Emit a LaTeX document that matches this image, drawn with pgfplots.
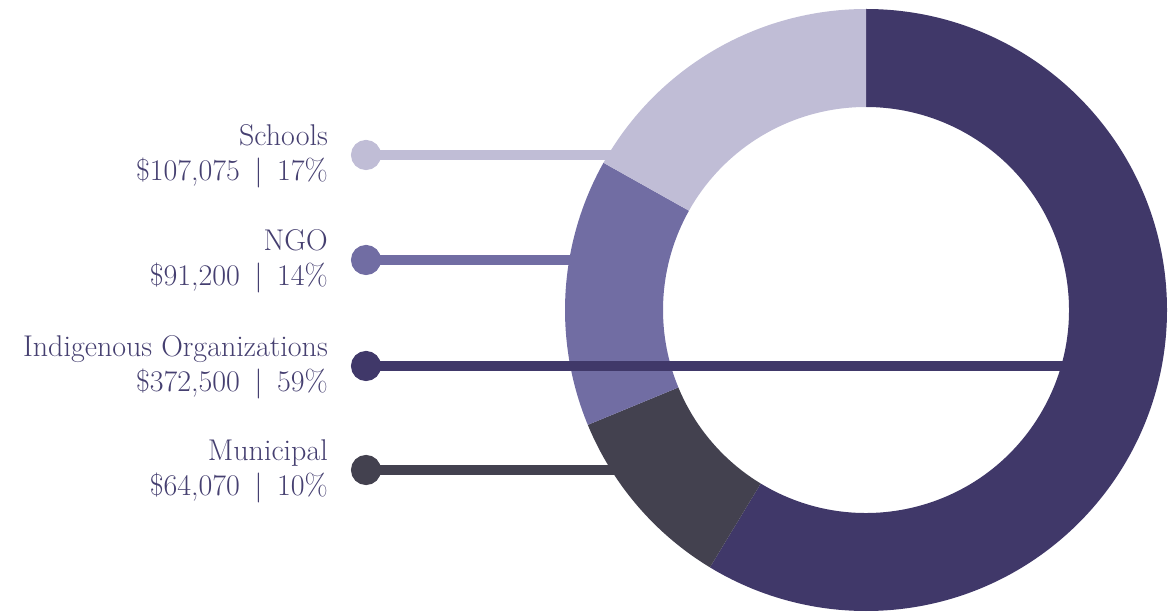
\documentclass[border=0pt]{standalone}
\usepackage{fontspec}
\usepackage{pgfplots}
\usepackage{pgfplotstable}
\pgfplotsset{compat=1.18}
\definecolor{cInd}{HTML}{403869}
\definecolor{cMun}{HTML}{43414F}
\definecolor{cNGO}{HTML}{716DA3}
\definecolor{cSch}{HTML}{C0BDD6}
\definecolor{txt}{HTML}{453F70}

\pgfplotstableread{
label value
Indigenous 372500
Municipal 64070
NGO 91200
Schools 107075
}\donut
\pgfplotstablegetelem{0}{value}\of\donut \let\vA\pgfplotsretval
\pgfplotstablegetelem{1}{value}\of\donut \let\vB\pgfplotsretval
\pgfplotstablegetelem{2}{value}\of\donut \let\vC\pgfplotsretval
\pgfplotstablegetelem{3}{value}\of\donut \let\vD\pgfplotsretval
\edef\T{\fpeval{\vA+\vB+\vC+\vD}}
\edef\aA{90}
\edef\aB{\fpeval{round(90-360*\vA/\T,4)}}
\edef\aC{\fpeval{round(\aB-360*\vB/\T,4)}}
\edef\aD{\fpeval{round(\aC-360*\vC/\T,4)}}
\edef\aE{\fpeval{round(\aD-360*\vD/\T,4)}}

\newcommand\donutseg[3]{%
  \fill[#3] (axis cs:{866+301*cos(#1)},{301+301*sin(#1)})
    arc[start angle=#1, end angle=#2, radius=301pt]
    -- (axis cs:{866+203*cos(#2)},{301+203*sin(#2)})
    arc[start angle=#2, end angle=#1, radius=203pt] -- cycle;}

\newcommand\sep{\hspace{0.48em}|\hspace{0.48em}}
\tikzset{lbl/.style={anchor=base east, text=txt, inner sep=0pt,
  font=\fontsize{30}{34}\selectfont}}

\begin{document}
\begin{tikzpicture}
\begin{axis}[
  width=1176pt, height=611pt, scale only axis,
  xmin=0, xmax=1176, ymin=0, ymax=611,
  hide axis, clip=false]
\path (axis cs:0,0) rectangle (axis cs:1176,611);
\donutseg{\aA}{\aB}{cInd}
\donutseg{\aB}{\aC}{cMun}
\donutseg{\aC}{\aD}{cNGO}
\donutseg{\aD}{\aE}{cSch}

\addplot[cSch, line width=10pt, mark=*, mark size=10pt,
  mark options={fill=cSch, draw=none}, mark indices={1}]
  coordinates {(366,456) (667,456)};
\addplot[cNGO, line width=10pt, mark=*, mark size=10pt,
  mark options={fill=cNGO, draw=none}, mark indices={1}]
  coordinates {(366,351) (619,351)};
\addplot[cInd, line width=10pt, mark=*, mark size=10pt,
  mark options={fill=cInd, draw=none}, mark indices={1}]
  coordinates {(366,245) (1112,245)};
\addplot[cMun, line width=10pt, mark=*, mark size=10pt,
  mark options={fill=cMun, draw=none}, mark indices={1}]
  coordinates {(366,141) (671,141)};

\node[lbl] at (axis cs:328,465) {Schools};
\node[lbl] at (axis cs:328,430) {\$107,075\sep17\%};
\node[lbl] at (axis cs:328,360) {NGO};
\node[lbl] at (axis cs:328,325) {\$91,200\sep14\%};
\node[lbl] at (axis cs:328,254) {Indigenous Organizations};
\node[lbl] at (axis cs:328,219) {\$372,500\sep59\%};
\node[lbl] at (axis cs:328,150) {Municipal};
\node[lbl] at (axis cs:328,115) {\$64,070\sep10\%};
\end{axis}
\end{tikzpicture}
\end{document}
